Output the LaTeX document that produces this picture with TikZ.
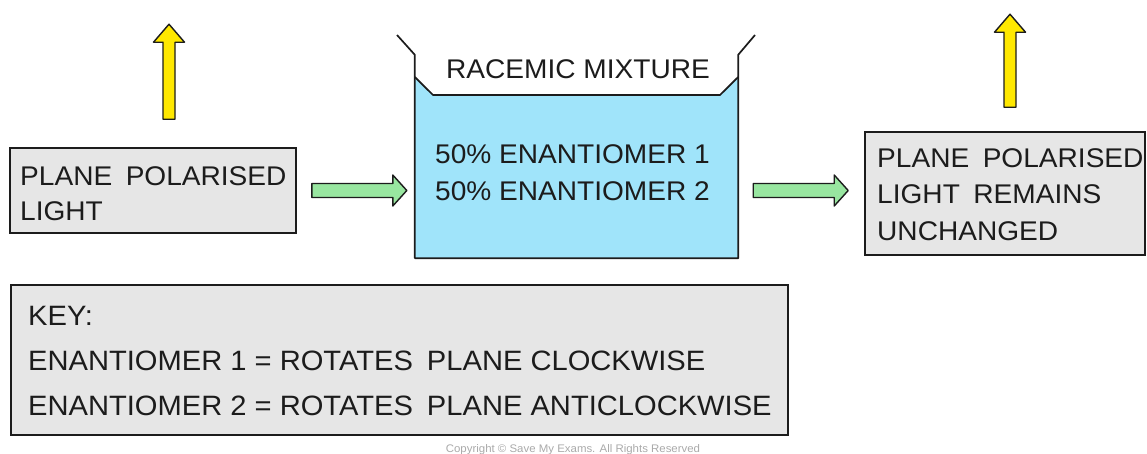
\documentclass[tikz,border=0pt]{standalone}
\usepackage{fontspec}
\setmainfont[FakeStretch=1.04]{Liberation Sans}
\usetikzlibrary{calc}
\definecolor{boxgray}{RGB}{230,230,230}
\definecolor{liquid}{RGB}{160,228,250}
\definecolor{arrgreen}{RGB}{152,230,160}
\definecolor{arryellow}{RGB}{255,232,0}
\definecolor{inkc}{RGB}{28,28,28}
\definecolor{copyc}{RGB}{170,170,170}
\newcommand{\fatarr}[7]{%
  \begin{scope}[shift={(#2)}, rotate=#3]
    \draw[#1] (0,-#6) -- (#4-#5,-#6) -- (#4-#5,-#7) -- (#4,0) -- (#4-#5,#7) -- (#4-#5,#6) -- (0,#6) -- cycle;
  \end{scope}}
\begin{document}
\begin{tikzpicture}[x=1pt,y=-1pt,
  box/.style={draw=inkc, line width=1.6pt, fill=boxgray, rectangle, inner sep=0pt},
  txt/.style={anchor=base west, inner sep=0pt, text=inkc, font=\fontsize{27}{30}\selectfont},
  keytxt/.style={anchor=base west, inner sep=0pt, text=inkc, font=\fontsize{28}{30}\selectfont},
  greenarr/.style={draw=inkc, line width=1.4pt, fill=arrgreen, line join=round},
  yellowarr/.style={draw=inkc, line width=1.4pt, fill=arryellow, line join=round},
  beakerline/.style={draw=inkc, line width=1.7pt, line join=round}]
\useasboundingbox[fill=white] (0,0) rectangle (1147,453);

% left box
\node[box, minimum width=286pt, minimum height=85pt] (lbox) at (153,190.5) {};
\node[txt] (l1) at (20,185) {PLANE\enspace POLARISED};
\node[txt] (l2) at (20,220) {LIGHT};

% beaker
\node[inner sep=0pt, minimum width=323pt, minimum height=203pt] (beaker) at (576.5,156.5) {};
\fill[liquid] (beaker.west |- 0,77) -- (433,95) -- (720,95) -- (beaker.east |- 0,77) -- (beaker.south east) -- (beaker.south west) -- cycle;
\draw[beakerline] (beaker.west |- 0,77) -- (433,95) -- (720,95) -- (beaker.east |- 0,77);
\draw[beakerline] (397,35) -- (beaker.north west) -- (beaker.south west) -- (beaker.south east) -- (beaker.north east) -- (755,35);
\node[txt] (rac) at (446,78) {RACEMIC MIXTURE};
\node[txt] (e1) at (435,163) {50\% ENANTIOMER 1};
\node[txt] (e2) at (435,200) {50\% ENANTIOMER 2};

% right box
\node[box, minimum width=280pt, minimum height=123pt] (rbox) at (1005,193.5) {};
\node[txt] (r1) at (877,167) {PLANE\enspace POLARISED};
\node[txt] (r2) at (877,203) {LIGHT\enspace REMAINS};
\node[txt] (r3) at (877,240) {UNCHANGED};

% key box
\node[box, minimum width=777pt, minimum height=150pt] (kbox) at (399.5,360) {};
\node[keytxt] (k1) at (28,325) {KEY:};
\node[keytxt] (k2) at (28,370) {ENANTIOMER 1 = ROTATES\enspace PLANE CLOCKWISE};
\node[keytxt] (k3) at (28,415) {ENANTIOMER 2 = ROTATES\enspace PLANE ANTICLOCKWISE};

% arrows (connectors)
\coordinate (ga1) at ($(lbox.east)+(15,0)$);
\coordinate (ga2) at ($(beaker.east |- lbox.east)+(15,0)$);
\coordinate (ya1) at ($(lbox.north)+(16,-28)$);
\coordinate (ya2) at ($(rbox.north)+(5,-24)$);
\fatarr{greenarr}{ga1}{0}{95}{14}{7}{15.5}
\fatarr{greenarr}{ga2}{0}{95}{14}{7}{15.5}
\fatarr{yellowarr}{ya1}{90}{95}{18}{6}{15.5}
\fatarr{yellowarr}{ya2}{90}{93}{18}{6}{15.5}

% copyright
\node[anchor=base, inner sep=0pt, text=copyc, font=\fontsize{11}{13}\selectfont] (copy) at (573,452) {Copyright © Save My Exams. All Rights Reserved};
\end{tikzpicture}
\end{document}
